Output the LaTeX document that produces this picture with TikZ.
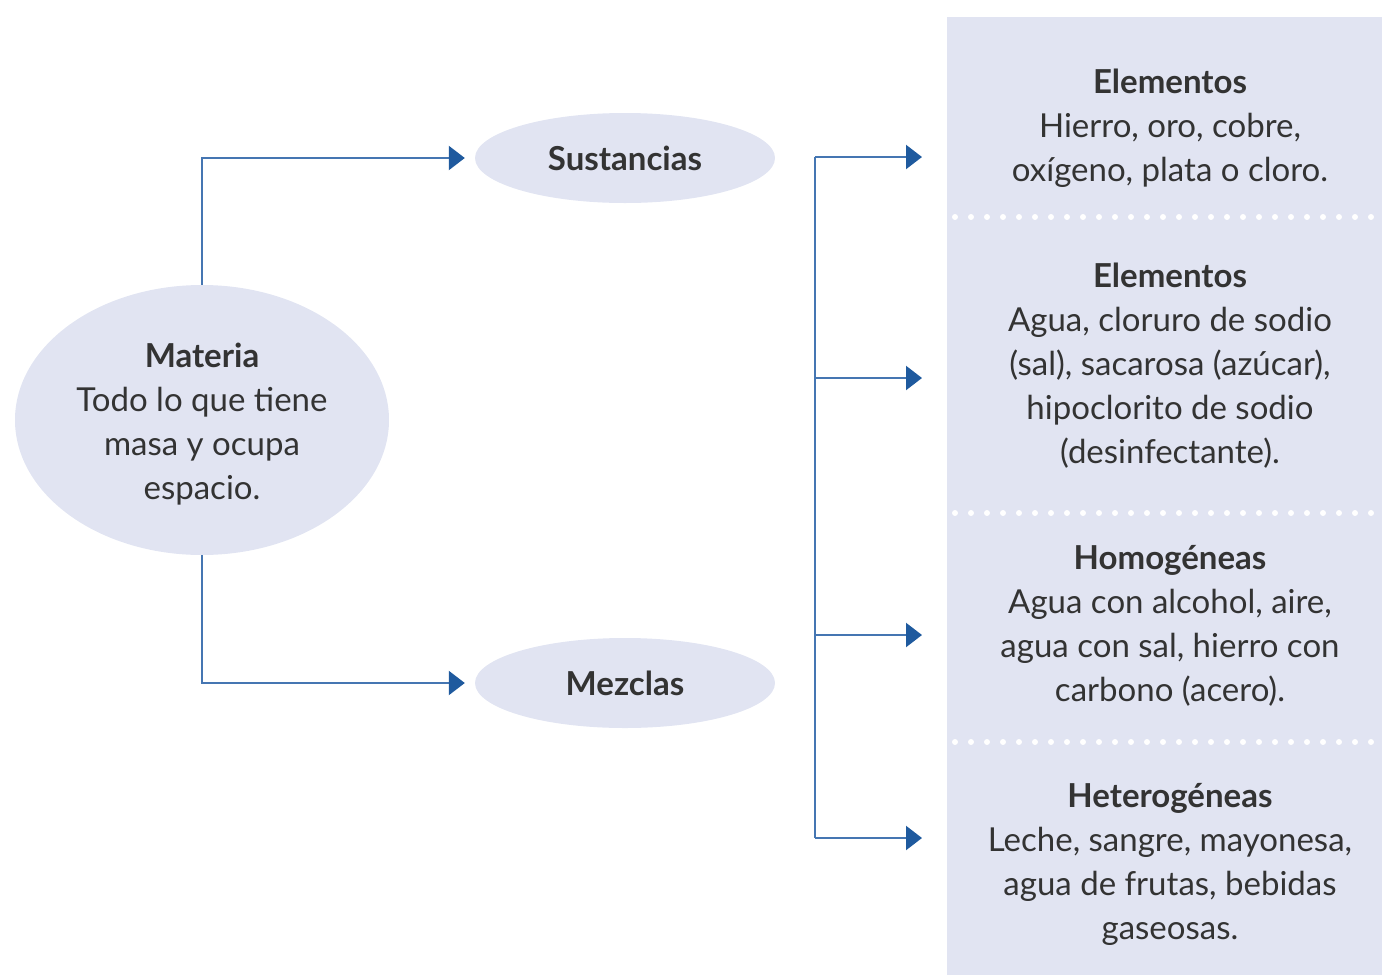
\documentclass[tikz,border=0pt]{standalone}
\usepackage{fontspec}
\setmainfont{Lato}
\usepackage{xcolor}
\usetikzlibrary{positioning,shapes.geometric,arrows.meta,calc}

\definecolor{panelfill}{HTML}{E1E4F2}
\definecolor{linkblue}{HTML}{4576B2}
\definecolor{tipblue}{HTML}{1F5A9E}
\definecolor{inktext}{HTML}{333333}

\tikzset{
    blob/.style={ellipse, fill=panelfill, inner sep=0pt, text=inktext, align=center},
    info/.style={text=inktext, align=center, font=\fontsize{33}{44}\selectfont},
    link/.style={draw=linkblue, line width=2.2pt},
    linkarrow/.style={link, -{Triangle[length=16pt,width=24pt,color=tipblue]}},
    dotsep/.style={white, line width=6pt, line cap=round, dash pattern=on 0pt off 16pt}
}

\begin{document}
\begin{tikzpicture}[x=1pt, y=-1pt]
    \useasboundingbox (0,0) rectangle (1382,975);

    % panel on the right
    \fill[panelfill] (947,17) rectangle (1382,975);
    \foreach \y in {217,513,742}
        \draw[dotsep] (955,\y) -- (1382,\y);

    % ellipses
    \node[blob, minimum width=374pt, minimum height=270pt] (materia) at (202,420) {};
    \node[info] (materiatext) at (202,424)
        {\textbf{Materia}\\Todo lo que tiene\\masa y ocupa\\espacio.};
    \node[blob, minimum width=300pt, minimum height=90pt,
          font=\bfseries\fontsize{33}{36}\selectfont] (sust) at (625,158) {Sustancias};
    \node[blob, minimum width=300pt, minimum height=90pt,
          font=\bfseries\fontsize{33}{36}\selectfont] (mezc) at (625,683) {Mezclas};

    \draw[linkarrow, shorten >=10pt] (materia.north) |- (sust.west);
    \draw[linkarrow, shorten >=10pt] (materia.south) |- (mezc.west);

    % texts in the panel
    \node[info] (elem) at (1170,128)
        {\textbf{Elementos}\\Hierro, oro, cobre,\\oxígeno, plata o cloro.};
    \node[info] (comp) at (1170,366)
        {\textbf{Elementos}\\Agua, cloruro de sodio\\(sal), sacarosa (azúcar),\\hipoclorito de sodio\\(desinfectante).};
    \node[info] (homo) at (1170,626)
        {\textbf{Homogéneas}\\Agua con alcohol, aire,\\agua con sal, hierro con\\carbono (acero).};
    \node[info] (hete) at (1170,864)
        {\textbf{Heterogéneas}\\Leche, sangre, mayonesa,\\agua de frutas, bebidas\\gaseosas.};

    % bracket
    \coordinate (bustop) at (815,157);
    \coordinate (busbot) at (815,838);
    \draw[link] (bustop) -- (busbot);
    \foreach \y [count=\i] in {157,378,635,838} {
        \coordinate (from\i) at (815,\y);
        \coordinate (to\i) at (922,\y);
        \draw[linkarrow] (from\i) -- (to\i);
    }
\end{tikzpicture}
\end{document}
